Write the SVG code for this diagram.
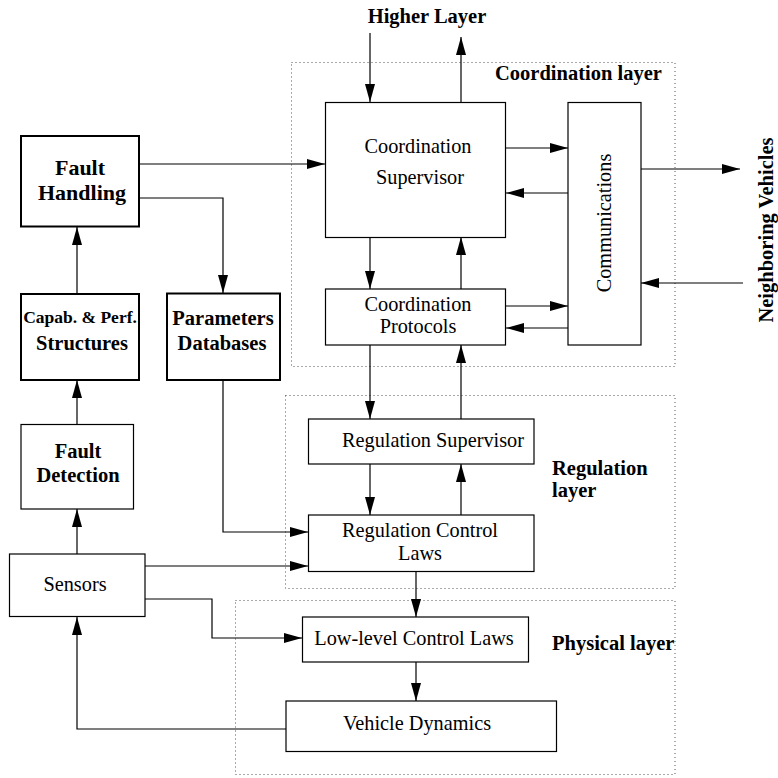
<svg xmlns="http://www.w3.org/2000/svg" width="778" height="778" viewBox="0 0 778 778">
<defs>
<marker id="ah" markerUnits="userSpaceOnUse" markerWidth="18" markerHeight="10" refX="18" refY="5" orient="auto">
<path d="M0,0 L18,5 L0,10 z" fill="#000"/>
</marker>
<style>
.box{fill:#fff;stroke:#000;stroke-width:1.2}
.thick{fill:#fff;stroke:#000;stroke-width:2}
.layer{fill:none;stroke:#555;stroke-width:1;stroke-dasharray:1 3}
.t{font-family:"Liberation Serif","Times New Roman",serif;font-size:20.3px;fill:#000;text-anchor:middle}
.b{font-family:"Liberation Serif","Times New Roman",serif;font-size:20.5px;font-weight:bold;fill:#000}
.bc{text-anchor:middle}
.c{fill:none;stroke:#000;stroke-width:1.2;marker-end:url(#ah)}
</style>
</defs>
<rect width="778" height="778" fill="#fff"/>
<g id="layers">
<rect class="layer" x="291.5" y="62.5" width="383.5" height="304"/>
<rect class="layer" x="285.5" y="395.5" width="389.5" height="193"/>
<rect class="layer" x="235.5" y="600.5" width="439.5" height="174"/>
<text class="b" x="495" y="80">Coordination layer</text>
<text class="b" x="552" y="475">Regulation</text>
<text class="b" x="552" y="497">layer</text>
<text class="b" x="552" y="650">Physical layer</text>
<text class="b bc" x="427" y="23">Higher Layer</text>
<text class="b bc" transform="translate(773,230) rotate(-90)">Neighboring Vehicles</text>
</g>
<g id="connectors">
<path class="c" d="M370,33 V102"/>
<path class="c" d="M461,102 V37"/>
<path class="c" d="M139,164 H325"/>
<path class="c" d="M139,198 H223 V293"/>
<path class="c" d="M506,148 H568"/>
<path class="c" d="M568,193 H506"/>
<path class="c" d="M641,169 H740"/>
<path class="c" d="M743,283 H641"/>
<path class="c" d="M370,237 V289"/>
<path class="c" d="M461,289 V237"/>
<path class="c" d="M506,306 H568"/>
<path class="c" d="M568,328 H506"/>
<path class="c" d="M370,345 V419"/>
<path class="c" d="M461,419 V345"/>
<path class="c" d="M370,464 V515"/>
<path class="c" d="M461,515 V464"/>
<path class="c" d="M416,572 V617"/>
<path class="c" d="M416,662 V701"/>
<path class="c" d="M223,380 V532 H308"/>
<path class="c" d="M145,566 H308"/>
<path class="c" d="M145,599 H212 V638 H302"/>
<path class="c" d="M286,729 H77 V617"/>
<path class="c" d="M77,554 V509"/>
<path class="c" d="M77,424 V380"/>
<path class="c" d="M77,294 V227"/>
</g>
<g id="coord-supervisor">
<rect class="box" x="325.5" y="102.5" width="180" height="135"/>
<text class="t" x="418" y="153">Coordination</text>
<text class="t" x="420" y="184">Supervisor</text>
</g>
<g id="communications">
<rect class="box" x="568" y="102.5" width="73" height="242.5"/>
<text class="t" transform="translate(611,223) rotate(-90)">Communications</text>
</g>
<g id="coord-protocols">
<rect class="box" x="325.5" y="289" width="180" height="56"/>
<text class="t" x="418" y="311">Coordination</text>
<text class="t" x="418" y="333">Protocols</text>
</g>
<g id="regulation-supervisor">
<rect class="box" x="308.5" y="419" width="225.5" height="45"/>
<text class="t" x="433" y="447">Regulation Supervisor</text>
</g>
<g id="regulation-control-laws">
<rect class="box" x="308.5" y="515" width="225.5" height="56.5"/>
<text class="t" x="420" y="537">Regulation Control</text>
<text class="t" x="420" y="560">Laws</text>
</g>
<g id="low-level-control-laws">
<rect class="box" x="302.5" y="617" width="226" height="45"/>
<text class="t" x="414" y="645">Low-level Control Laws</text>
</g>
<g id="vehicle-dynamics">
<rect class="box" x="286" y="701" width="270.5" height="50.5"/>
<text class="t" x="417" y="730">Vehicle Dynamics</text>
</g>
<g id="fault-handling">
<rect class="thick" x="21" y="136" width="118" height="90.5"/>
<text class="b bc" x="80" y="175" style="font-size:22px">Fault</text>
<text class="b bc" x="82" y="200" style="font-size:22px">Handling</text>
</g>
<g id="capab-perf">
<rect class="thick" x="21" y="294" width="118" height="86"/>
<text class="b bc" x="80" y="323" style="font-size:17.5px">Capab. &amp; Perf.</text>
<text class="b bc" x="82" y="350">Structures</text>
</g>
<g id="parameters-databases">
<rect class="thick" x="167" y="293.5" width="113" height="86.5"/>
<text class="b bc" x="223" y="325">Parameters</text>
<text class="b bc" x="222" y="350">Databases</text>
</g>
<g id="fault-detection">
<rect class="box" x="21" y="424.5" width="112.5" height="84.5"/>
<text class="b bc" x="78" y="458">Fault</text>
<text class="b bc" x="78" y="482">Detection</text>
</g>
<g id="sensors">
<rect class="box" x="9.5" y="554" width="135.5" height="62.5"/>
<text class="t" x="75" y="591">Sensors</text>
</g>
</svg>
